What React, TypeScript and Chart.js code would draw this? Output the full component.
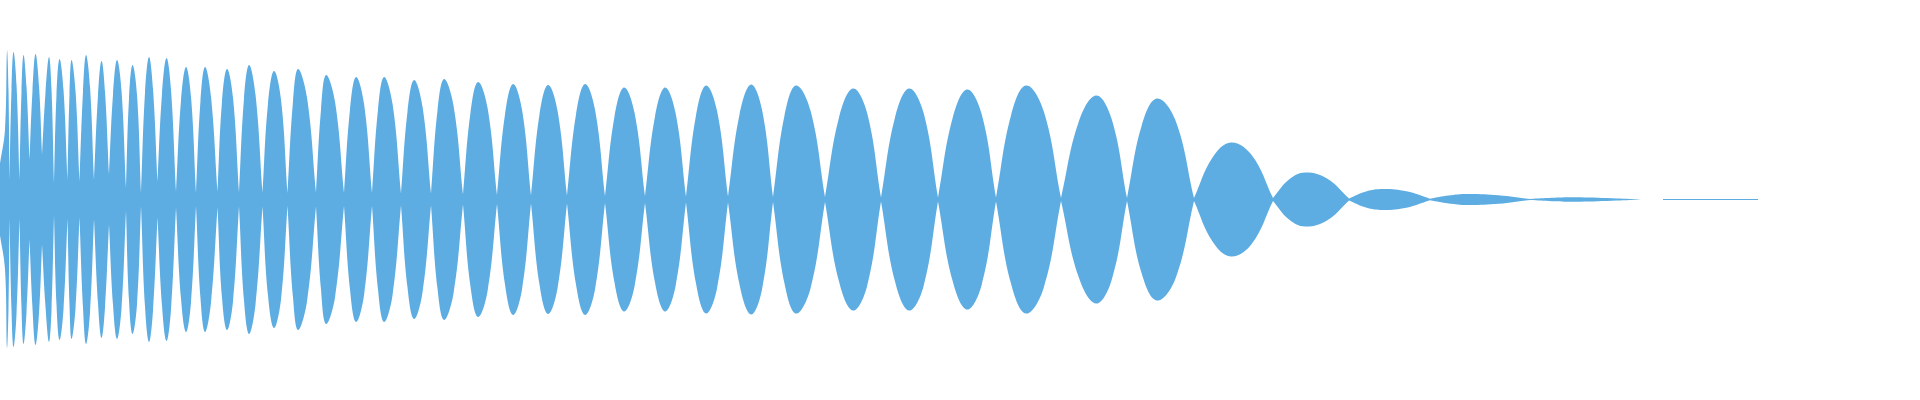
import React, { useEffect, useRef } from "react";
import { Chart, registerables } from "chart.js";

Chart.register(...registerables);

// Waveform envelope (mirrored around zero). x = sample position, y = amplitude.
const startX = 0;
const startAmp = 36;

// lobe peaks
const peakX = [7, 13.5, 23.5, 35.5, 49, 59.5, 71.5, 86, 101.5, 117, 132.5, 149, 166.5, 186, 205, 227, 249, 274, 298, 326, 356, 384, 414, 444, 478, 513, 548, 585, 624, 665, 706, 751, 796, 853, 909, 967, 1026, 1096, 1157, 1231, 1305, 1383, 1467, 1575];
const peakAmp = [148.5, 147.5, 144.5, 145.5, 142.5, 140.5, 139.5, 144.5, 138.5, 139.5, 134.5, 142.5, 141.5, 132.5, 132.5, 130.5, 134.5, 128.5, 130.5, 124.5, 122.5, 122.5, 119.5, 120.5, 117.5, 115.5, 114.5, 115.5, 112, 112, 114, 115, 114, 111, 111, 110, 114, 104, 101, 57, 27, 10.5, 5.5, 2.2];

// rising flank of each lobe
const riseX = [5, 11.5, 21.5, 32.5, 45.5, 56.5, 69.5, 83, 98, 113, 129, 145, 162, 181, 200.5, 222, 244, 268, 293, 321, 350, 378, 407.5, 437.5, 470.5, 505, 539.5, 576, 614.5, 655, 696, 739.5, 784.5, 839, 895, 952.5, 1011, 1078.5, 1142, 1212.5, 1289, 1366, 1448.5, 1552];
const riseAmp = [70, 110, 108, 109, 107, 105, 105, 108, 104, 105, 101, 107, 106, 99, 99, 98, 101, 96, 98, 90, 90, 90, 88, 89, 87, 85, 85, 85, 83, 83, 84, 85, 84, 82, 82, 81, 84, 77, 75, 42, 20, 8, 4, 1.7];

// falling flank of each lobe
const fallX = [8.5, 16.5, 26.5, 39, 51.5, 63.5, 75.5, 90, 105, 121.5, 137, 153, 171, 191, 211, 233, 255.5, 281, 307, 335, 364, 392.5, 422.5, 453.5, 487.5, 522, 557.5, 595, 634.5, 675.5, 717, 762, 810.5, 867, 923.5, 981.5, 1043.5, 1111.5, 1175.5, 1252, 1327, 1406.5, 1498.5, 1612];
const fallAmp = [110, 115, 113, 114, 111, 110, 109, 113, 108, 109, 105, 111, 110, 103, 103, 102, 105, 100, 102, 98, 96, 96, 93, 94, 92, 90, 89, 90, 87, 87, 89, 90, 89, 87, 87, 86, 89, 81, 79, 44, 21, 8.2, 4.3, 1.2];

// nodes (narrowest points) after each lobe
const nodeX = [9.5, 19.5, 29.5, 42, 54, 67.5, 79.5, 94, 109, 126, 141, 157.5, 176, 196, 217.5, 239, 262.5, 287.5, 316, 344, 372, 401, 431, 463, 497, 531, 567, 605, 645, 686, 728, 773, 825, 881, 938, 996, 1061, 1127, 1194, 1273, 1349, 1430, 1530, 1641];
const nodeAmp = [19.5, 19.5, 40, 45, 16, 19.5, 18, 19.5, 25, 11.5, 6.5, 18, 8, 6.5, 8, 7, 7, 6.5, 7, 6.5, 6.5, 6, 6, 5, 4.5, 4, 4, 3.5, 3.5, 3, 3, 2.5, 2.5, 2, 2, 2, 1.5, 1.5, 1.5, 1.5, 1, 0.8, 0.5, 0];

const tailX = [1663, 1758];
const tailAmp = [0.5, 0.5];

const FILL = "rgb(93,173,226)";

function buildEnvelope() {
  const pts: { x: number; y: number }[] = [{ x: startX, y: startAmp }];
  for (let i = 0; i < peakX.length; i++) {
    pts.push({ x: riseX[i], y: riseAmp[i] });
    pts.push({ x: peakX[i], y: peakAmp[i] });
    pts.push({ x: fallX[i], y: fallAmp[i] });
    pts.push({ x: nodeX[i], y: nodeAmp[i] });
    if (i < peakX.length - 1) pts.push({ x: nodeX[i], y: nodeAmp[i] }); // keeps the node pointed
  }
  return pts;
}

export default function App() {
  const ref = useRef<HTMLCanvasElement | null>(null);
  useEffect(() => {
    document.body.style.margin = "0";
    const upper = buildEnvelope();
    const lower = upper.map((p) => ({ x: p.x, y: -p.y }));
    const tailUp = tailX.map((x, i) => ({ x, y: tailAmp[i] }));
    const tailLo = tailX.map((x, i) => ({ x, y: -tailAmp[i] }));
    const common = {
      borderColor: "rgba(0,0,0,0)",
      borderWidth: 0,
      pointRadius: 0,
      backgroundColor: FILL,
    };
    const chart = new Chart(ref.current as HTMLCanvasElement, {
      type: "line",
      data: {
        datasets: [
          { ...common, data: upper, fill: "+1", tension: 0.4 },
          { ...common, data: lower, fill: false, tension: 0.4 },
          { ...common, data: tailUp, fill: "+1", tension: 0 },
          { ...common, data: tailLo, fill: false, tension: 0 },
        ],
      },
      options: {
        animation: false,
        responsive: false,
        maintainAspectRatio: false,
        layout: { padding: 0 },
        plugins: { legend: { display: false }, tooltip: { enabled: false } },
        scales: {
          x: { type: "linear", display: false, min: 0, max: 1920 },
          y: { display: false, min: -200.5, max: 199.5 },
        },
      },
    } as any);
    return () => chart.destroy();
  }, []);
  return <canvas ref={ref} width={1920} height={400} style={{ display: "block" }} />;
}
